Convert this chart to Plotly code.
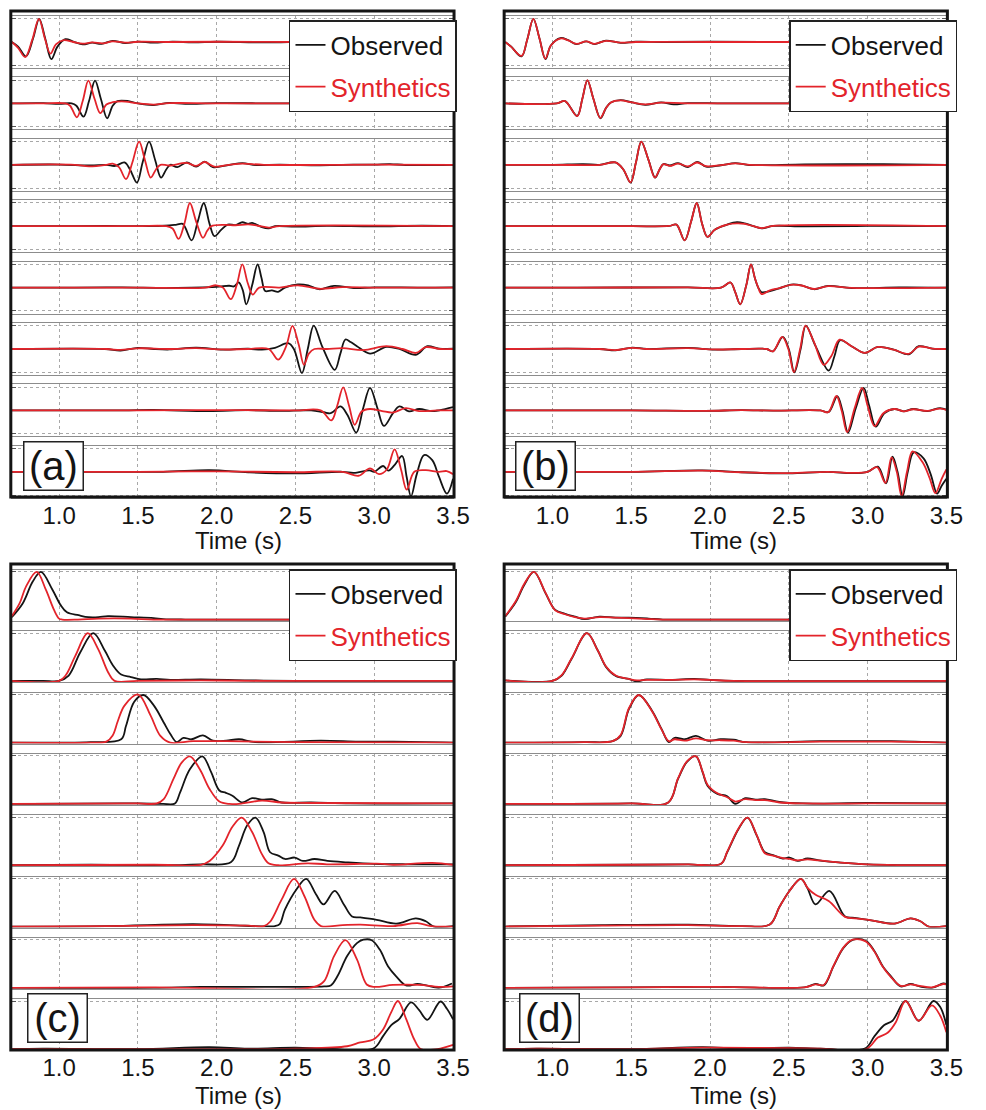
import plotly.graph_objects as go

W, H = 986, 1110

# ---------------- data: (time s, normalized amplitude) ----------------
A_OBS = [
    [(0.70,0.0),(0.74,-0.2),(0.79,-0.62),(0.835,0.15),(0.874,1.0),(0.912,0.15),(0.951,-0.74),(0.99,-0.2),(1.04,0.12),(1.09,0.02),(1.15,-0.1),(1.21,-0.03),(1.27,-0.08),(1.34,0.05),(1.42,-0.05),(1.50,0.02),(1.60,-0.03),(1.72,0.02),(1.85,-0.02),(2.0,0.01),(2.3,-0.02),(2.6,0.01),(3.0,0.0),(3.3,0.02),(3.5,0.0)],
    [(0.70,0.0),(0.9,0.01),(1.0,-0.02),(1.08,0.0),(1.11,-0.1),(1.155,-0.57),(1.19,0.1),(1.228,0.98),(1.265,0.2),(1.305,-0.64),(1.34,-0.1),(1.37,0.1),(1.44,0.1),(1.5,0.0),(1.6,-0.07),(1.7,0.02),(1.8,-0.02),(2.0,0.01),(2.4,0.0),(2.8,0.01),(3.2,-0.01),(3.5,0.0)],
    [(0.70,0.0),(1.0,0.01),(1.2,-0.03),(1.3,0.0),(1.355,-0.05),(1.415,0.1),(1.45,-0.2),(1.494,-0.77),(1.53,0.1),(1.571,1.0),(1.61,0.2),(1.647,-0.55),(1.68,-0.2),(1.706,0.0),(1.75,-0.1),(1.81,0.1),(1.87,-0.08),(1.924,0.14),(1.976,-0.1),(2.08,0.0),(2.163,0.07),(2.25,-0.01),(2.4,0.01),(2.6,-0.02),(2.8,0.0),(3.0,0.01),(3.1,0.03),(3.2,-0.01),(3.5,0.0)],
    [(0.70,0.0),(1.0,0.0),(1.3,0.01),(1.5,0.0),(1.7,0.03),(1.747,0.07),(1.785,0.1),(1.841,-0.61),(1.88,0.2),(1.918,1.0),(1.955,0.1),(1.986,-0.43),(2.03,-0.15),(2.07,0.07),(2.12,0.05),(2.163,0.17),(2.2,0.1),(2.225,0.14),(2.287,-0.04),(2.33,-0.09),(2.37,0.0),(2.5,-0.02),(2.7,0.01),(3.0,-0.01),(3.3,0.02),(3.5,0.0)],
    [(0.70,0.0),(1.1,0.0),(1.4,0.01),(1.7,-0.01),(1.997,0.03),(2.08,0.08),(2.11,0.05),(2.14,0.22),(2.165,-0.1),(2.188,-0.72),(2.225,0.1),(2.26,1.0),(2.285,0.4),(2.308,-0.15),(2.35,-0.12),(2.39,-0.18),(2.433,0.0),(2.516,0.14),(2.58,0.1),(2.65,-0.07),(2.745,0.07),(2.87,-0.02),(3.0,0.01),(3.3,0.0),(3.5,0.01)],
    [(0.70,0.0),(1.29,0.0),(1.39,-0.07),(1.50,0.05),(1.6,0.0),(1.7,-0.02),(1.87,0.06),(2.04,-0.03),(2.2,0.01),(2.287,-0.03),(2.37,0.05),(2.454,0.25),(2.49,0.0),(2.541,-1.04),(2.578,0.0),(2.616,1.01),(2.67,0.1),(2.749,-0.9),(2.785,-0.2),(2.817,0.41),(2.85,0.3),(2.89,0.12),(2.973,-0.2),(3.077,0.09),(3.16,0.0),(3.264,-0.25),(3.337,0.12),(3.41,0.02),(3.5,0.01)],
    [(0.70,0.0),(1.4,0.0),(1.6,0.02),(1.95,-0.03),(2.2,0.01),(2.4,-0.02),(2.6,0.0),(2.68,-0.08),(2.724,-0.12),(2.786,0.17),(2.83,-0.2),(2.886,-0.96),(2.93,0.1),(2.973,0.97),(3.02,0.1),(3.061,-0.67),(3.119,-0.12),(3.16,0.17),(3.22,-0.04),(3.285,0.06),(3.368,-0.03),(3.45,0.06),(3.5,0.14)],
    [(0.70,0.0),(1.2,0.0),(1.66,0.0),(1.955,0.07),(2.2,-0.02),(2.495,-0.07),(2.8,0.0),(2.87,-0.05),(2.97,0.06),(3.0,0.0),(3.056,0.25),(3.09,0.05),(3.13,0.3),(3.177,0.68),(3.205,-0.2),(3.233,-1.06),(3.27,-0.1),(3.316,0.72),(3.368,0.5),(3.41,-0.2),(3.461,-0.94),(3.5,-0.3)],
]
A_SYN = [
    [(0.70,0.0),(0.74,-0.25),(0.785,-0.65),(0.83,0.1),(0.872,1.0),(0.91,0.15),(0.945,-0.5),(0.98,-0.1),(1.03,0.08),(1.09,0.0),(1.15,-0.07),(1.21,-0.02),(1.28,-0.06),(1.34,0.03),(1.42,-0.03),(1.5,0.01),(1.7,0.0),(2.0,0.01),(2.5,0.0),(3.0,0.01),(3.5,0.0)],
    [(0.70,0.0),(0.9,0.0),(1.04,0.0),(1.07,-0.1),(1.113,-0.6),(1.15,0.1),(1.186,0.98),(1.225,0.2),(1.262,-0.42),(1.30,-0.05),(1.34,0.05),(1.42,0.08),(1.5,0.0),(1.6,-0.05),(1.7,0.01),(2.0,0.0),(3.5,0.0)],
    [(0.70,0.0),(1.1,0.0),(1.19,-0.07),(1.3,0.0),(1.34,0.05),(1.38,-0.1),(1.425,-0.62),(1.465,0.1),(1.508,1.0),(1.545,0.2),(1.581,-0.55),(1.615,-0.2),(1.643,0.0),(1.70,-0.03),(1.81,0.08),(1.87,-0.05),(1.924,0.12),(1.985,-0.08),(2.08,0.0),(2.163,0.05),(2.3,0.0),(3.0,0.01),(3.5,0.0)],
    [(0.70,0.0),(1.2,0.0),(1.5,0.0),(1.68,0.0),(1.72,-0.1),(1.758,-0.55),(1.795,0.1),(1.83,1.0),(1.87,0.2),(1.913,-0.5),(1.94,-0.2),(1.965,0.0),(2.05,0.06),(2.12,0.04),(2.2,0.08),(2.26,0.02),(2.33,-0.06),(2.4,0.0),(3.5,0.0)],
    [(0.70,0.0),(1.5,0.0),(1.93,0.0),(1.997,0.1),(2.04,0.0),(2.09,-0.5),(2.127,0.1),(2.163,1.0),(2.197,0.2),(2.229,-0.3),(2.27,0.0),(2.4,0.0),(2.516,0.1),(2.65,-0.05),(2.8,0.02),(3.0,0.0),(3.5,0.0)],
    [(0.70,0.0),(1.3,0.0),(1.39,-0.04),(1.5,0.03),(1.7,0.0),(1.87,0.04),(2.04,-0.02),(2.2,0.0),(2.33,0.0),(2.391,-0.46),(2.44,0.1),(2.481,1.0),(2.52,0.2),(2.554,-0.68),(2.585,-0.2),(2.62,0.0),(2.7,0.0),(2.8,0.04),(2.93,-0.05),(3.077,0.12),(3.18,0.0),(3.264,-0.17),(3.327,0.08),(3.42,0.0),(3.5,0.0)],
    [(0.70,0.0),(1.5,0.0),(2.0,0.01),(2.5,0.0),(2.66,0.0),(2.728,-0.43),(2.765,0.2),(2.803,0.99),(2.84,0.2),(2.876,-0.62),(2.92,-0.05),(2.973,0.06),(3.05,-0.03),(3.119,-0.09),(3.2,0.1),(3.285,-0.03),(3.4,0.0),(3.5,0.0)],
    [(0.70,0.0),(1.5,0.0),(2.0,0.02),(2.5,-0.02),(2.8,0.0),(2.90,-0.17),(2.973,0.15),(3.03,-0.1),(3.08,0.1),(3.129,0.97),(3.17,0.1),(3.206,-0.77),(3.254,0.0),(3.327,0.07),(3.41,0.0),(3.46,0.03),(3.5,-0.1)],
]
B_OBS = [
    [(0.70,0.0),(0.737,-0.19),(0.804,-0.62),(0.84,0.1),(0.879,1.0),(0.918,0.15),(0.956,-0.74),(0.99,-0.15),(1.05,0.17),(1.10,0.08),(1.153,-0.09),(1.215,0.03),(1.267,-0.09),(1.34,0.06),(1.433,-0.04),(1.53,0.01),(1.7,0.0),(2.0,0.01),(2.5,0.0),(3.0,0.0),(3.5,0.0)],
    [(0.70,0.0),(1.028,0.0),(1.08,0.1),(1.157,-0.54),(1.19,0.2),(1.222,0.99),(1.26,0.2),(1.305,-0.64),(1.34,-0.2),(1.371,0.04),(1.433,0.14),(1.506,0.04),(1.59,-0.06),(1.69,0.04),(1.77,-0.04),(1.86,0.01),(2.1,0.0),(3.5,0.0)],
    [(0.70,0.0),(1.0,0.0),(1.195,0.03),(1.3,0.0),(1.40,0.1),(1.45,-0.2),(1.496,-0.77),(1.53,0.1),(1.564,1.0),(1.61,0.2),(1.652,-0.55),(1.68,-0.2),(1.704,0.03),(1.745,-0.03),(1.797,0.07),(1.86,-0.1),(1.918,0.13),(1.975,-0.08),(2.07,-0.02),(2.161,0.07),(2.25,-0.01),(2.6,0.02),(3.1,0.03),(3.5,0.0)],
    [(0.70,0.0),(1.5,0.0),(1.74,0.01),(1.787,0.07),(1.839,-0.61),(1.88,0.2),(1.916,1.0),(1.95,0.1),(1.984,-0.46),(2.03,-0.15),(2.109,0.07),(2.171,0.17),(2.22,0.12),(2.275,0.0),(2.327,-0.09),(2.4,0.01),(2.6,-0.01),(3.0,0.01),(3.5,0.0)],
    [(0.70,0.0),(1.16,0.0),(1.86,0.01),(2.07,0.0),(2.13,0.22),(2.16,-0.2),(2.192,-0.72),(2.23,0.1),(2.26,1.0),(2.285,0.4),(2.306,0.0),(2.327,-0.2),(2.38,-0.15),(2.44,-0.03),(2.514,0.13),(2.58,0.1),(2.66,-0.07),(2.75,0.07),(2.9,-0.02),(3.2,0.01),(3.5,0.0)],
    [(0.70,0.0),(1.30,0.0),(1.40,-0.06),(1.506,0.06),(1.6,0.0),(1.86,0.05),(2.03,-0.03),(2.2,0.0),(2.36,0.0),(2.40,-0.1),(2.462,0.52),(2.50,0.0),(2.535,-1.01),(2.575,0.0),(2.608,1.01),(2.67,0.12),(2.753,-0.93),(2.79,-0.3),(2.826,0.38),(2.898,0.12),(2.982,-0.17),(3.065,0.09),(3.165,-0.03),(3.262,-0.23),(3.324,0.12),(3.41,0.02),(3.5,0.0)],
    [(0.70,0.0),(1.5,0.0),(1.97,-0.02),(2.2,0.01),(2.4,-0.01),(2.7,0.0),(2.753,-0.07),(2.807,0.61),(2.84,0.0),(2.876,-0.96),(2.925,0.1),(2.975,0.97),(3.01,0.2),(3.052,-0.7),(3.106,-0.12),(3.17,0.06),(3.23,-0.04),(3.29,0.06),(3.38,-0.03),(3.46,0.1),(3.5,0.03)],
    [(0.70,0.0),(1.5,0.0),(1.95,0.06),(2.2,-0.02),(2.5,-0.07),(2.75,0.0),(2.9,-0.06),(3.0,0.0),(3.065,0.22),(3.117,-0.5),(3.158,0.65),(3.19,0.0),(3.222,-1.06),(3.255,0.0),(3.293,0.84),(3.355,0.58),(3.4,-0.1),(3.441,-0.94),(3.47,-0.6),(3.5,-0.3)],
]
B_SYN = [
    [(0.70,0.0),(0.737,-0.2),(0.804,-0.6),(0.84,0.1),(0.879,1.0),(0.918,0.15),(0.955,-0.72),(0.99,-0.15),(1.05,0.15),(1.10,0.07),(1.153,-0.08),(1.215,0.03),(1.267,-0.08),(1.34,0.05),(1.433,-0.03),(1.53,0.0),(2.0,0.0),(3.5,0.0)],
    [(0.70,0.0),(1.028,0.0),(1.08,0.1),(1.157,-0.55),(1.19,0.2),(1.222,1.0),(1.26,0.2),(1.303,-0.62),(1.34,-0.2),(1.371,0.04),(1.433,0.13),(1.506,0.04),(1.59,-0.04),(1.69,0.03),(1.86,0.0),(3.5,0.0)],
    [(0.70,0.0),(1.0,0.0),(1.3,0.0),(1.40,0.1),(1.45,-0.2),(1.496,-0.76),(1.53,0.1),(1.564,1.0),(1.61,0.2),(1.65,-0.55),(1.68,-0.2),(1.704,0.03),(1.745,-0.05),(1.797,0.05),(1.86,-0.07),(1.918,0.1),(1.975,-0.06),(2.07,-0.01),(2.161,0.06),(2.25,0.0),(3.5,0.0)],
    [(0.70,0.0),(1.5,0.0),(1.74,0.01),(1.787,0.07),(1.839,-0.61),(1.88,0.2),(1.916,1.0),(1.95,0.1),(1.984,-0.46),(2.03,-0.15),(2.109,0.07),(2.171,0.12),(2.22,0.1),(2.275,0.0),(2.327,-0.08),(2.4,0.01),(3.5,0.0)],
    [(0.70,0.0),(1.16,0.0),(1.86,0.01),(2.07,0.0),(2.13,0.22),(2.16,-0.2),(2.192,-0.72),(2.23,0.1),(2.26,1.0),(2.285,0.4),(2.306,0.0),(2.327,-0.28),(2.38,-0.12),(2.44,-0.02),(2.514,0.12),(2.58,0.09),(2.66,-0.06),(2.75,0.06),(2.9,-0.01),(3.5,0.0)],
    [(0.70,0.0),(1.30,0.0),(1.40,-0.05),(1.506,0.05),(1.6,0.0),(1.86,0.04),(2.03,-0.02),(2.2,0.0),(2.36,0.0),(2.40,-0.1),(2.458,0.52),(2.497,0.0),(2.532,-1.0),(2.572,0.0),(2.606,1.01),(2.66,0.3),(2.722,-0.68),(2.77,-0.3),(2.822,0.4),(2.898,0.12),(2.982,-0.17),(3.065,0.09),(3.165,-0.03),(3.262,-0.21),(3.324,0.1),(3.41,0.02),(3.5,0.0)],
    [(0.70,0.0),(1.5,0.0),(1.97,-0.02),(2.2,0.01),(2.4,-0.01),(2.7,0.0),(2.75,-0.08),(2.802,0.62),(2.835,0.0),(2.87,-0.94),(2.918,0.1),(2.965,0.97),(3.0,0.2),(3.044,-0.68),(3.1,-0.12),(3.17,0.06),(3.23,-0.04),(3.29,0.05),(3.38,-0.02),(3.46,0.08),(3.5,0.02)],
    [(0.70,0.0),(1.5,0.0),(1.95,0.05),(2.2,-0.02),(2.5,-0.06),(2.75,0.0),(2.9,-0.05),(3.0,0.0),(3.06,0.2),(3.113,-0.48),(3.152,0.62),(3.185,0.0),(3.216,-1.05),(3.25,0.0),(3.285,0.88),(3.35,0.4),(3.395,-0.3),(3.43,-0.92),(3.47,-0.3),(3.5,0.1)],
]
C_OBS = [
    [(0.70,0.06),(0.77,0.35),(0.833,0.8),(0.885,1.0),(0.958,0.63),(1.01,0.31),(1.05,0.16),(1.124,0.1),(1.186,0.06),(1.25,0.06),(1.31,0.08),(1.456,0.06),(1.6,0.04),(1.66,0.02),(1.8,0.01),(2.5,0.01),(3.5,0.01)],
    [(0.70,0.01),(0.9,0.01),(1.0,0.01),(1.061,0.12),(1.134,0.6),(1.217,1.0),(1.29,0.64),(1.342,0.33),(1.394,0.14),(1.456,0.09),(1.52,0.04),(1.62,0.05),(1.706,0.03),(1.9,0.04),(2.2,0.02),(2.5,0.01),(3.0,0.01),(3.5,0.01)],
    [(0.70,0.0),(1.0,0.0),(1.2,0.01),(1.394,0.07),(1.425,0.35),(1.477,0.85),(1.535,0.99),(1.602,0.77),(1.664,0.42),(1.706,0.18),(1.747,0.01),(1.789,0.1),(1.84,0.07),(1.913,0.15),(1.976,0.04),(2.06,0.04),(2.142,0.07),(2.246,0.01),(2.662,0.04),(2.9,0.02),(3.119,0.02),(3.5,0.0)],
    [(0.70,0.0),(1.5,0.01),(1.66,0.0),(1.735,0.01),(1.768,0.24),(1.83,0.72),(1.909,0.99),(1.965,0.66),(2.017,0.28),(2.059,0.23),(2.1,0.17),(2.163,0.03),(2.225,0.12),(2.287,0.09),(2.35,0.1),(2.412,0.03),(2.6,0.03),(2.85,0.01),(3.5,0.01)],
    [(0.70,0.0),(1.2,0.01),(1.6,0.0),(1.9,0.02),(2.09,0.06),(2.142,0.41),(2.194,0.83),(2.246,0.99),(2.298,0.69),(2.339,0.27),(2.391,0.2),(2.433,0.13),(2.495,0.16),(2.547,0.09),(2.62,0.13),(2.703,0.09),(2.828,0.06),(3.0,0.03),(3.2,0.02),(3.5,0.02)],
    [(0.70,0.0),(1.3,0.01),(1.85,0.05),(2.08,0.03),(2.37,0.01),(2.4,0.05),(2.433,0.35),(2.506,0.77),(2.568,0.99),(2.63,0.67),(2.678,0.46),(2.749,0.74),(2.807,0.46),(2.859,0.21),(2.911,0.19),(3.015,0.14),(3.14,0.06),(3.264,0.17),(3.327,0.11),(3.378,0.0),(3.5,0.01)],
    [(0.70,0.0),(1.6,0.0),(1.9,0.02),(2.55,0.02),(2.682,0.03),(2.724,0.05),(2.766,0.24),(2.828,0.66),(2.89,0.93),(2.931,1.0),(2.984,0.99),(3.036,0.79),(3.087,0.45),(3.139,0.24),(3.202,0.05),(3.274,0.08),(3.33,0.05),(3.41,0.0),(3.493,0.09)],
    [(0.70,0.0),(0.9,0.01),(1.5,0.0),(1.955,0.04),(2.2,0.01),(2.5,0.03),(2.7,0.01),(2.994,0.01),(3.056,0.27),(3.108,0.5),(3.16,0.63),(3.233,0.97),(3.285,0.81),(3.337,0.61),(3.42,0.99),(3.461,0.84),(3.5,0.62)],
]
C_SYN = [
    [(0.70,0.08),(0.75,0.35),(0.791,0.7),(0.858,1.0),(0.916,0.63),(0.968,0.21),(1.0,0.03),(1.02,0.01),(1.12,0.01),(1.25,0.03),(1.456,0.03),(1.6,0.01),(2.0,0.01),(3.5,0.01)],
    [(0.70,0.01),(1.0,0.01),(1.041,0.12),(1.103,0.53),(1.182,1.0),(1.248,0.67),(1.311,0.19),(1.352,0.01),(1.5,0.01),(1.9,0.02),(2.3,0.01),(3.5,0.01)],
    [(0.70,0.0),(1.2,0.0),(1.30,0.02),(1.34,0.15),(1.373,0.45),(1.415,0.77),(1.502,1.0),(1.581,0.56),(1.643,0.14),(1.706,0.0),(1.85,0.03),(2.06,0.03),(2.5,0.01),(3.5,0.0)],
    [(0.70,0.0),(1.5,0.01),(1.62,0.01),(1.664,0.1),(1.726,0.52),(1.778,0.86),(1.83,0.99),(1.893,0.72),(1.955,0.31),(2.017,0.05),(2.08,0.0),(2.163,0.01),(2.287,0.07),(2.412,0.03),(2.6,0.02),(3.5,0.01)],
    [(0.70,0.0),(1.6,0.01),(1.9,0.01),(1.955,0.09),(2.038,0.41),(2.1,0.8),(2.159,0.99),(2.225,0.69),(2.287,0.23),(2.329,0.04),(2.39,0.0),(2.578,0.04),(2.7,0.02),(3.05,0.03),(3.12,0.01),(3.368,0.05),(3.5,0.01)],
    [(0.70,0.0),(1.3,0.01),(1.85,0.03),(2.2,0.02),(2.3,0.01),(2.339,0.1),(2.412,0.56),(2.491,0.99),(2.557,0.63),(2.62,0.14),(2.662,0.01),(2.8,0.03),(2.911,0.04),(3.119,0.01),(3.274,0.07),(3.36,0.01),(3.5,0.0)],
    [(0.70,0.0),(1.6,0.01),(2.62,0.02),(2.682,0.14),(2.745,0.66),(2.817,0.99),(2.89,0.59),(2.952,0.07),(3.0,0.02),(3.119,0.06),(3.285,0.06),(3.41,0.02),(3.5,0.03)],
    [(0.70,0.0),(1.5,0.0),(2.5,0.01),(2.828,0.06),(2.911,0.14),(2.994,0.2),(3.056,0.41),(3.108,0.77),(3.15,1.0),(3.202,0.63),(3.254,0.2),(3.295,0.0),(3.4,0.0),(3.5,0.09)],
]
D_OBS = [
    [(0.70,0.07),(0.769,0.38),(0.821,0.73),(0.883,1.0),(0.956,0.56),(1.018,0.21),(1.08,0.13),(1.143,0.07),(1.205,0.02),(1.298,0.07),(1.40,0.05),(1.485,0.05),(1.61,0.03),(1.70,0.01),(2.0,0.01),(3.5,0.01)],
    [(0.70,0.02),(1.0,0.01),(1.059,0.12),(1.122,0.47),(1.219,1.0),(1.288,0.64),(1.34,0.3),(1.402,0.11),(1.485,0.05),(1.537,0.0),(1.6,0.04),(1.75,0.03),(1.9,0.05),(2.0,0.03),(2.15,0.01),(3.5,0.01)],
    [(0.70,0.0),(1.2,0.01),(1.382,0.03),(1.433,0.14),(1.486,0.7),(1.548,0.99),(1.631,0.67),(1.693,0.28),(1.739,0.01),(1.776,0.1),(1.839,0.07),(1.911,0.14),(1.984,0.04),(2.067,0.07),(2.15,0.06),(2.23,0.01),(2.7,0.03),(3.15,0.03),(3.5,0.0)],
    [(0.70,0.0),(1.5,0.01),(1.735,0.03),(1.797,0.52),(1.855,0.88),(1.911,0.99),(1.953,0.66),(1.984,0.38),(2.047,0.21),(2.109,0.16),(2.161,0.0),(2.223,0.12),(2.29,0.09),(2.348,0.1),(2.44,0.04),(2.59,0.01),(3.0,0.02),(3.5,0.01)],
    [(0.70,0.0),(1.5,0.01),(1.86,0.02),(2.07,0.03),(2.109,0.27),(2.182,0.76),(2.238,0.99),(2.296,0.62),(2.348,0.27),(2.4,0.21),(2.462,0.14),(2.504,0.16),(2.556,0.09),(2.618,0.14),(2.691,0.1),(2.815,0.06),(3.0,0.02),(3.5,0.0)],
    [(0.70,0.0),(1.32,0.03),(1.86,0.04),(2.2,0.01),(2.379,0.04),(2.441,0.41),(2.504,0.74),(2.577,0.99),(2.618,0.8),(2.67,0.46),(2.757,0.74),(2.857,0.21),(2.919,0.18),(3.023,0.13),(3.169,0.06),(3.273,0.17),(3.335,0.11),(3.387,0.0),(3.5,0.01)],
    [(0.70,0.0),(1.5,0.01),(2.067,0.02),(2.6,0.01),(2.67,0.08),(2.722,0.05),(2.784,0.45),(2.847,0.83),(2.909,1.0),(2.992,0.97),(3.044,0.76),(3.096,0.45),(3.148,0.24),(3.21,0.03),(3.273,0.08),(3.33,0.03),(3.408,0.0),(3.48,0.09),(3.5,0.08)],
    [(0.70,0.0),(0.9,0.01),(1.5,0.0),(1.955,0.04),(2.2,0.01),(2.5,0.03),(2.7,0.01),(2.982,0.01),(3.044,0.27),(3.106,0.5),(3.158,0.59),(3.241,1.0),(3.324,0.59),(3.418,1.0),(3.46,0.88),(3.5,0.5)],
]
D_SYN = [
    [(0.70,0.08),(0.769,0.4),(0.821,0.75),(0.883,1.0),(0.956,0.57),(1.018,0.2),(1.08,0.12),(1.143,0.06),(1.205,0.03),(1.298,0.06),(1.40,0.05),(1.485,0.04),(1.61,0.02),(1.70,0.01),(2.0,0.01),(3.5,0.01)],
    [(0.70,0.02),(1.0,0.01),(1.059,0.13),(1.122,0.48),(1.219,1.0),(1.288,0.64),(1.34,0.31),(1.402,0.12),(1.485,0.05),(1.537,0.02),(1.6,0.03),(1.75,0.03),(1.9,0.04),(2.0,0.03),(2.15,0.01),(3.5,0.01)],
    [(0.70,0.0),(1.2,0.01),(1.382,0.03),(1.433,0.16),(1.486,0.72),(1.548,0.99),(1.631,0.66),(1.693,0.27),(1.739,0.03),(1.776,0.07),(1.839,0.04),(1.911,0.09),(1.984,0.05),(2.067,0.05),(2.15,0.04),(2.23,0.01),(2.7,0.02),(3.15,0.02),(3.5,0.0)],
    [(0.70,0.0),(1.5,0.01),(1.735,0.03),(1.797,0.53),(1.855,0.89),(1.911,0.99),(1.953,0.67),(1.984,0.4),(2.047,0.22),(2.109,0.14),(2.161,0.05),(2.223,0.1),(2.29,0.08),(2.348,0.08),(2.44,0.03),(2.59,0.01),(3.0,0.01),(3.5,0.01)],
    [(0.70,0.0),(1.5,0.01),(1.86,0.02),(2.07,0.03),(2.109,0.28),(2.182,0.77),(2.238,0.99),(2.296,0.63),(2.348,0.25),(2.4,0.2),(2.462,0.15),(2.504,0.13),(2.556,0.1),(2.618,0.12),(2.691,0.1),(2.815,0.06),(3.0,0.02),(3.5,0.0)],
    [(0.70,0.0),(1.32,0.02),(1.86,0.03),(2.2,0.01),(2.379,0.04),(2.441,0.41),(2.504,0.74),(2.577,0.99),(2.62,0.8),(2.67,0.66),(2.753,0.53),(2.857,0.2),(2.919,0.17),(3.023,0.13),(3.169,0.06),(3.273,0.17),(3.335,0.11),(3.387,0.0),(3.5,0.01)],
    [(0.70,0.0),(1.5,0.01),(2.067,0.02),(2.6,0.01),(2.67,0.07),(2.722,0.06),(2.784,0.46),(2.847,0.84),(2.905,1.0),(2.985,0.97),(3.04,0.77),(3.092,0.46),(3.144,0.24),(3.21,0.04),(3.273,0.07),(3.33,0.04),(3.408,0.01),(3.48,0.08),(3.5,0.07)],
    [(0.70,0.0),(0.9,0.01),(1.5,0.0),(1.955,0.03),(2.5,0.02),(2.7,0.01),(2.99,0.0),(3.065,0.24),(3.127,0.34),(3.179,0.56),(3.241,1.0),(3.324,0.59),(3.408,0.91),(3.46,0.7),(3.5,0.35)],
]

X_TICKS = [1.0, 1.5, 2.0, 2.5, 3.0, 3.5]
X_TICKTEXT = ["1.0", "1.5", "2.0", "2.5", "3.0", "3.5"]
PANEL_LABELS = ["(a)", "(b)", "(c)", "(d)"]
SERIES_NAMES = ["Observed", "Synthetics"]
X_TITLE = "Time (s)"

# ---------------- layout geometry (pixels) ----------------
FONT = "Liberation Sans, Arial, Helvetica, sans-serif"
BLACK = "#141414"
RED = "#e3242b"

panels = [
    dict(obs=A_OBS, syn=A_SYN, kind="wave", x0=12, x1=461, border=(11, 11, 462, 497),
         base0=42, pitch=61.4, legend=(465, 20), label=(54, 466), title=(243, 540)),
    dict(obs=B_OBS, syn=B_SYN, kind="wave", x0=514, x1=963, border=(513, 11, 964, 497),
         base0=42, pitch=61.4, legend=(974, 20), label=(555, 466), title=(746, 540)),
    dict(obs=C_OBS, syn=C_SYN, kind="env", x0=12, x1=461, border=(11, 564, 462, 1050),
         base0=620, pitch=61.3, legend=(465, 569), label=(58, 1018), title=(243, 1095)),
    dict(obs=D_OBS, syn=D_SYN, kind="env", x0=514, x1=963, border=(513, 564, 964, 1050),
         base0=620, pitch=61.3, legend=(974, 569), label=(559, 1018), title=(746, 1095)),
]

def px_x(px):
    return px / W

def px_y(py):
    return 1 - py / H

fig = go.Figure()
layout = dict(width=W, height=H, margin=dict(l=0, r=0, t=0, b=0),
              paper_bgcolor="white", plot_bgcolor="white",
              font=dict(family=FONT, color=BLACK), shapes=[], annotations=[])

for p, P in enumerate(panels):
    legname = "legend" if p == 0 else f"legend{p+1}"
    for r in range(8):
        idx = p * 8 + r + 1
        xa = "x" if idx == 1 else f"x{idx}"
        ya = "y" if idx == 1 else f"y{idx}"
        base = P["base0"] + P["pitch"] * r
        if P["kind"] == "wave":
            top, bot = base - 26, base + 26
            yrange = [-1.12, 1.12]
            yt = [-1, 1]
        else:
            top, bot = base - 50, base + 1
            yrange = [-0.02, 1.04]
            yt = [0, 1]
        for s, (data, color, nm) in enumerate([(P["obs"][r], BLACK, SERIES_NAMES[0]),
                                                (P["syn"][r], RED, SERIES_NAMES[1])]):
            label = nm if s == 0 else f'<span style="color:{RED}">{nm}</span>'
            fig.add_trace(go.Scatter(
                x=[d[0] for d in data], y=[d[1] for d in data],
                mode="lines", line=dict(color=color, width=1.8, shape="spline", smoothing=1.0),
                xaxis=xa, yaxis=ya, name=label, legendgroup=f"{p}-{s}",
                showlegend=(r == 0), legend=legname, hoverinfo="skip"))
        axkey = "xaxis" if idx == 1 else f"xaxis{idx}"
        aykey = "yaxis" if idx == 1 else f"yaxis{idx}"
        layout[axkey] = dict(
            domain=[px_x(P["x0"]), px_x(P["x1"])], range=[0.7, 3.5], anchor=ya,
            tickvals=X_TICKS, ticktext=X_TICKTEXT, showticklabels=(r == 7),
            tickfont=dict(size=24, color=BLACK, family=FONT), ticklabelstandoff=-4,
            showgrid=True, gridcolor="#a8a8a8", griddash="dot", gridwidth=1,
            showline=True, linecolor="#8c8c8c", linewidth=1, mirror=True,
            zeroline=False, ticks="", fixedrange=True)
        layout[aykey] = dict(
            domain=[px_y(bot), px_y(top)], range=yrange, anchor=xa,
            tickvals=yt, showticklabels=False,
            showgrid=True, gridcolor="#a8a8a8", griddash="dot", gridwidth=1,
            showline=True, linecolor="#8c8c8c", linewidth=1, mirror="ticks",
            ticks="inside", ticklen=4, tickcolor="#555555",
            zeroline=False, fixedrange=True)
    # panel border
    bx0, by0, bx1, by1 = P["border"]
    layout["shapes"].append(dict(type="rect", xref="paper", yref="paper",
                                 x0=px_x(bx0), x1=px_x(bx1), y0=px_y(by1), y1=px_y(by0),
                                 line=dict(color=BLACK, width=3), layer="above"))
    # legend
    lx, ly = P["legend"]
    layout[legname] = dict(x=px_x(lx), y=px_y(ly), xanchor="right", yanchor="top",
                           bgcolor="white", bordercolor="#222222", borderwidth=1.5,
                           font=dict(size=26, family=FONT, color=BLACK),
                           traceorder="grouped", tracegroupgap=5, itemwidth=30)
    # panel label
    cx, cy = P["label"]
    layout["annotations"].append(dict(text=PANEL_LABELS[p], xref="paper", yref="paper",
                                      x=px_x(cx), y=px_y(cy), xanchor="center", yanchor="middle",
                                      showarrow=False, font=dict(size=40, family=FONT, color=BLACK),
                                      bgcolor="white", bordercolor="#222222", borderwidth=1.5,
                                      borderpad=0, width=58, height=47))
    tx, ty = P["title"]
    layout["annotations"].append(dict(text=X_TITLE, xref="paper", yref="paper",
                                      x=px_x(tx), y=px_y(ty), xanchor="center", yanchor="middle",
                                      showarrow=False, font=dict(size=24, family=FONT, color=BLACK)))

fig.update_layout(**layout)
fig.write_html("out.html")
